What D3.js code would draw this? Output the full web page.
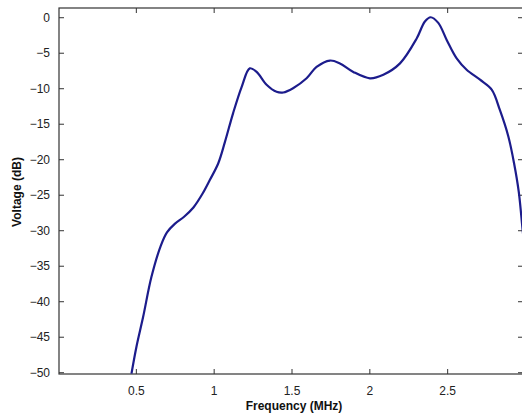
<!DOCTYPE html>
<html>
<head>
<meta charset="utf-8">
<script src="https://cdn.jsdelivr.net/npm/d3@7"></script>
<style>
  body { margin: 0; background: #fff; }
  svg { display: block; font-family: "Liberation Sans", Arial, sans-serif; }
  .tick text { font-size: 12px; fill: #222; }
  .axis-title { font-size: 12px; font-weight: bold; fill: #111; }
</style>
</head>
<body>
<svg id="chart" width="522" height="415"></svg>
<script>
// frequency response
var freq = [0.472, 0.504, 0.547, 0.60, 0.66, 0.70, 0.75, 0.81, 0.87, 0.93, 0.976, 1.029, 1.072, 1.125, 1.18, 1.232, 1.276, 1.34, 1.404, 1.447, 1.51, 1.597, 1.661, 1.747, 1.811, 1.897, 2.004, 2.09, 2.197, 2.304, 2.357, 2.394, 2.443, 2.497, 2.561, 2.625, 2.711, 2.786, 2.839, 2.893, 2.93, 2.96, 2.985, 3.0];
var volt = [-50.2, -46.4, -42.2, -36.6, -32.2, -30.3, -29.1, -28.1, -26.8, -24.8, -22.9, -20.6, -17.6, -13.5, -9.8, -7.2, -7.7, -9.5, -10.5, -10.6, -10.0, -8.6, -7.0, -6.1, -6.5, -7.7, -8.6, -8.1, -6.5, -3.0, -0.6, 0.0, -0.8, -3.2, -5.8, -7.4, -8.8, -10.2, -13.1, -16.8, -20.6, -24.6, -30.0, -33.0];
var xTicks = [0.5, 1, 1.5, 2, 2.5];
var yTicks = [0, -5, -10, -15, -20, -25, -30, -35, -40, -45, -50];

(function() {
    var left = 59, right = 525, top = 8, bottom = 374;
    var svg = d3.select("#chart");

    var x = d3.scaleLinear().domain([0, 3]).range([left - 1, right]);
    var y = d3.scaleLinear().domain([-50.25, 1.3]).range([bottom, top]);

    // box frame
    svg.append("rect")
        .attr("x", left).attr("y", top)
        .attr("width", right - left).attr("height", bottom - top)
        .attr("fill", "none").attr("stroke", "#333").attr("stroke-width", 1.2);

    // bottom axis, ticks pointing inward
    svg.append("g")
        .attr("transform", "translate(0," + bottom + ")")
        .call(d3.axisBottom(x).tickValues(xTicks).tickSize(-5).tickPadding(12).tickFormat(d3.format("")))
        .call((g) => g.select(".domain").remove())
        .call((g) => g.selectAll("line").attr("stroke", "#333"));

    // top ticks
    svg.append("g")
        .attr("transform", "translate(0," + top + ")")
        .call(d3.axisTop(x).tickValues(xTicks).tickSize(-5).tickFormat(""))
        .call((g) => g.select(".domain").remove())
        .call((g) => g.selectAll("line").attr("stroke", "#333"));

    // left axis
    svg.append("g")
        .attr("transform", "translate(" + left + ",0)")
        .call(d3.axisLeft(y).tickValues(yTicks).tickSize(-5).tickPadding(9))
        .call((g) => g.select(".domain").remove())
        .call((g) => g.selectAll("line").attr("stroke", "#333"));

    // right ticks
    svg.append("g")
        .attr("transform", "translate(" + right + ",0)")
        .call(d3.axisRight(y).tickValues(yTicks).tickSize(-7).tickFormat(""))
        .call((g) => g.select(".domain").remove())
        .call((g) => g.selectAll("line").attr("stroke", "#333"));

    svg.append("clipPath").attr("id", "plot-clip")
        .append("rect")
        .attr("x", left).attr("y", top)
        .attr("width", right - left).attr("height", bottom - top);

    var pts = freq.map((f, i) => [f, volt[i]]);
    var line = d3.line()
        .x((d) => x(d[0]))
        .y((d) => y(d[1]))
        .curve(d3.curveCatmullRom.alpha(0.5));

    svg.append("path")
        .datum(pts)
        .attr("clip-path", "url(#plot-clip)")
        .attr("d", line)
        .attr("fill", "none")
        .attr("stroke", "#1c1c8c")
        .attr("stroke-width", 2.2)
        .attr("stroke-linejoin", "round");

    svg.append("text")
        .attr("class", "axis-title")
        .attr("x", 294).attr("y", 410)
        .attr("text-anchor", "middle")
        .text("Frequency (MHz)");

    svg.append("text")
        .attr("class", "axis-title")
        .attr("transform", "translate(21,192) rotate(-90)")
        .attr("text-anchor", "middle")
        .text("Voltage (dB)");
})();
</script>
</body>
</html>
